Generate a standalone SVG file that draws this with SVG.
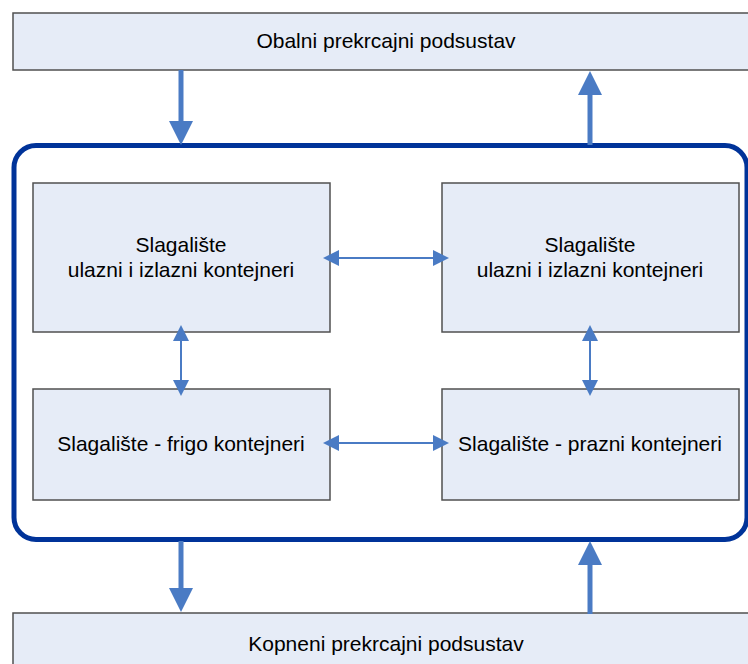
<svg xmlns="http://www.w3.org/2000/svg" width="748" height="664" viewBox="0 0 748 664">
  <style>
    .box { fill: #E6ECF7; stroke: #505050; stroke-width: 1.5; }
    .frame { fill: none; stroke: #003399; stroke-width: 5; }
    .lbl { font-family: "Liberation Sans", Arial, sans-serif; font-size: 21px; fill: #000; text-anchor: middle; }
    .flow { stroke: #4A7BC4; stroke-width: 5; fill: none; marker-end: url(#bigHead); }
    .link { stroke: #4A7BC4; stroke-width: 2; fill: none; marker-start: url(#smallHead); marker-end: url(#smallHead); }
  </style>
  <defs>
    <marker id="bigHead" markerUnits="userSpaceOnUse" markerWidth="24" markerHeight="24" viewBox="0 0 24 24" refX="4" refY="12" orient="auto">
      <path d="M0,0 L24,12 L0,24 Z" fill="#4A7BC4"/>
    </marker>
    <marker id="smallHead" markerUnits="userSpaceOnUse" markerWidth="16" markerHeight="16" viewBox="0 0 16 16" refX="4" refY="8" orient="auto-start-reverse">
      <path d="M0,0 L16,8 L0,16 Z" fill="#4A7BC4"/>
    </marker>
  </defs>

  <rect width="748" height="664" fill="#FFFFFF"/>

  <!-- outer subsystems -->
  <g id="obalni">
    <rect class="box" x="13" y="13" width="760" height="57"/>
    <text class="lbl" x="386" y="48">Obalni prekrcajni podsustav</text>
  </g>
  <g id="kopneni">
    <rect class="box" x="13" y="613" width="760" height="70"/>
    <text class="lbl" x="386" y="651">Kopneni prekrcajni podsustav</text>
  </g>

  <!-- storage area frame -->
  <g id="skladiste">
    <rect class="frame" x="14" y="145.5" width="733" height="394" rx="22" ry="22"/>
  </g>

  <g id="slagaliste-1">
    <rect class="box" x="33" y="183" width="297" height="149"/>
    <text class="lbl" x="181" y="252">Slagalište</text>
    <text class="lbl" x="181" y="277">ulazni i izlazni kontejneri</text>
  </g>
  <g id="slagaliste-2">
    <rect class="box" x="442" y="183" width="297" height="149"/>
    <text class="lbl" x="590" y="252">Slagalište</text>
    <text class="lbl" x="590" y="277">ulazni i izlazni kontejneri</text>
  </g>
  <g id="slagaliste-frigo">
    <rect class="box" x="33" y="389" width="297" height="111"/>
    <text class="lbl" x="181" y="451">Slagalište - frigo kontejneri</text>
  </g>
  <g id="slagaliste-prazni">
    <rect class="box" x="442" y="389" width="297" height="111"/>
    <text class="lbl" x="590" y="451">Slagalište - prazni kontejneri</text>
  </g>

  <!-- connectors -->
  <g id="connectors">
    <line class="flow" x1="181" y1="70" x2="181" y2="125"/>
    <line class="flow" x1="590" y1="145" x2="590" y2="91"/>
    <line class="flow" x1="181" y1="541" x2="181" y2="592"/>
    <line class="flow" x1="590" y1="614" x2="590" y2="561"/>
    <line class="link" x1="335" y1="258" x2="437" y2="258"/>
    <line class="link" x1="335" y1="443" x2="437" y2="443"/>
    <line class="link" x1="181" y1="337" x2="181" y2="384"/>
    <line class="link" x1="590" y1="337" x2="590" y2="384"/>
  </g>
</svg>
